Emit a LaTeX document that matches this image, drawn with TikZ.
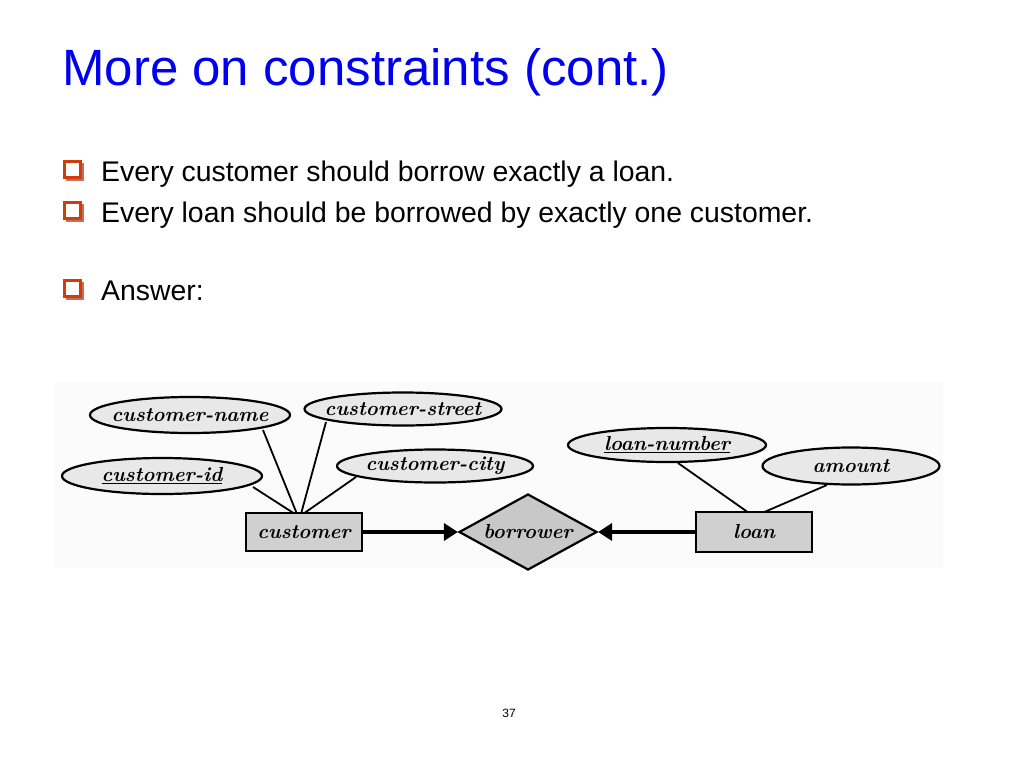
\documentclass[tikz,border=0pt]{standalone}
\usepackage{fontspec}
\setmainfont{Liberation Sans}
\newfontfamily\erfont{Latin Modern Roman}
\usetikzlibrary{shapes.geometric,arrows.meta}
\definecolor{titleblue}{RGB}{0,0,240}
\definecolor{bulletred}{RGB}{210,60,10}
\definecolor{bulletdark}{RGB}{170,50,20}
\definecolor{attrfill}{RGB}{232,232,232}
\definecolor{entfill}{RGB}{208,208,208}
\definecolor{relfill}{RGB}{200,200,200}
\definecolor{backdrop}{RGB}{251,251,251}
\newcommand{\erlab}[1]{\makebox[0pt]{#1}}
\tikzset{
  erfnt/.style={font=\erfont\bfseries\itshape\fontsize{20.3}{20.3}\selectfont},
  attr/.style={ellipse, draw=black, line width=2.2pt, fill=attrfill, inner sep=0pt, erfnt},
  entity/.style={rectangle, draw=black, line width=2.2pt, fill=entfill, inner sep=0pt, erfnt},
  rel/.style={diamond, draw=black, line width=2.2pt, fill=relfill, inner sep=0pt, aspect=1.8, erfnt},
  link/.style={line width=1.8pt},
  card/.style={line width=4pt, -{Triangle[length=14pt,width=17pt]}},
  bullettext/.style={anchor=base west, inner sep=0pt, font=\fontsize{28.4}{28.4}\selectfont},
}
\newcommand{\bulletsq}[2]{%
  \fill[bulletdark!70] (#1+2.5,#2+2.5) rectangle (#1+20.5,#2+20.5);
  \draw[bulletred, line width=2.8pt, fill=white] (#1+1.4,#2+1.4) rectangle (#1+17.6,#2+17.6);
}
\begin{document}
\begin{tikzpicture}[x=1pt,y=-1pt]
\useasboundingbox (0,0) rectangle (1024,768);
\fill[white] (0,0) rectangle (1024,768);
% title
\node[anchor=base west, inner sep=0pt, text=titleblue, font=\fontsize{51}{51}\selectfont] (title) at (62,85) {More on constraints (cont.)};
% bullets
\bulletsq{63}{160}
\node[bullettext] (b1) at (101,181) {Every customer should borrow exactly a loan.};
\bulletsq{63}{201}
\node[bullettext] (b2) at (101,222) {Every loan should be borrowed by exactly one customer.};
\bulletsq{63}{279}
\node[bullettext] (b3) at (101,300) {Answer:};
% faint backdrop of the diagram
\fill[backdrop] (55,383) rectangle (943,568);
% link end points (drawn first, nodes cover them)
\coordinate (cnameA) at (263,430);
\coordinate (cstreetA) at (326,422);
\coordinate (cidA) at (253,487);
\coordinate (ccityA) at (356,477);
\coordinate (lnumA) at (678,463);
\coordinate (amountA) at (827,485);
\coordinate (ctop1) at (297,514);
\coordinate (ctop2) at (301,514);
\coordinate (ctop3) at (295,514);
\coordinate (ctop4) at (303,514);
\coordinate (ltop1) at (749,513);
\coordinate (ltop2) at (762,513);
\draw[link] (cnameA) -- (ctop1);
\draw[link] (cstreetA) -- (ctop2);
\draw[link] (cidA) -- (ctop3);
\draw[link] (ccityA) -- (ctop4);
\draw[link] (lnumA) -- (ltop1);
\draw[link] (amountA) -- (ltop2);
% diagram
\node[attr, minimum width=200pt, minimum height=36pt] (cname) at (190,415) {\erlab{customer-name}};
\node[attr, minimum width=197pt, minimum height=33pt] (cstreet) at (403,409) {\erlab{customer-street}};
\node[attr, minimum width=200pt, minimum height=36pt] (cid) at (162,476) {\erlab{\underline{customer-id}}};
\node[attr, minimum width=196pt, minimum height=33pt] (ccity) at (435,466) {\erlab{customer-city}};
\node[entity, minimum width=116pt, minimum height=38pt] (cust) at (304,532) {\erlab{customer}};
\node[rel, minimum width=138pt, minimum height=76pt] (borrow) at (528,532) {\erlab{borrower}};
\node[attr, minimum width=198pt, minimum height=34pt] (lnum) at (667,445) {\erlab{\underline{loan-number}}};
\node[attr, minimum width=177pt, minimum height=37pt] (amount) at (851,466) {\erlab{amount}};
\node[entity, minimum width=116pt, minimum height=40pt] (loan) at (754,532) {\erlab{loan}};
% cardinality arrows
\draw[card] (cust.east) -- (borrow.west);
\draw[card] (loan.west) -- (borrow.east);
% page number
\node[font=\fontsize{12}{12}\selectfont, inner sep=0pt, anchor=base] (pg) at (509,717) {37};
\end{tikzpicture}
\end{document}
